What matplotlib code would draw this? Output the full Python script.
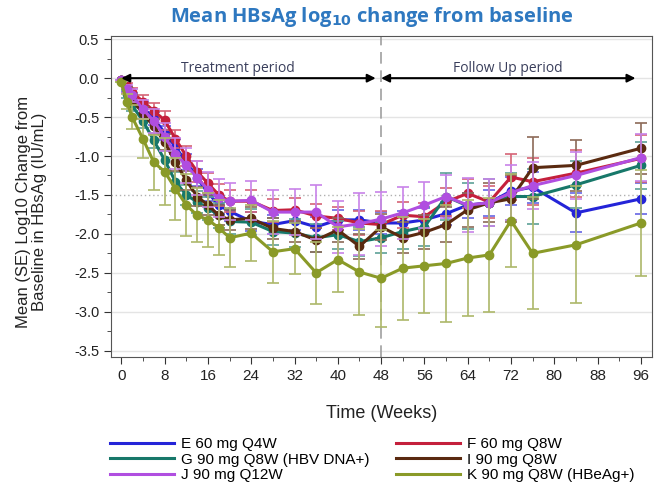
import matplotlib
matplotlib.use('Agg')
from matplotlib import pyplot as plt
from matplotlib.lines import Line2D
from matplotlib.ticker import MultipleLocator
import numpy as np

plt.rcParams['font.family'] = ['Liberation Sans', 'DejaVu Sans']

weeks = [0, 1, 2, 4, 6, 8, 10, 12, 14, 16, 18, 20, 24, 28, 32, 36, 40, 44, 48,
         52, 56, 60, 64, 68, 72, 76, 84, 96]

labels = ['E 60 mg Q4W', 'F 60 mg Q8W', 'G 90 mg Q8W (HBV DNA+)',
          'I 90 mg Q8W', 'J 90 mg Q12W', 'K 90 mg Q8W (HBeAg+)']
colors = ['#2424d8', '#c4203c', '#17786a', '#5a2a10', '#b04ee0', '#8a9a28']

mean_E = [-0.02, -0.14, -0.24, -0.38, -0.52, -0.70, -0.88, -1.08, -1.28, -1.47, -1.63, -1.71,
          -1.84, -1.88, -1.83, -1.91, -1.82, -1.82, -1.86, -1.86, -1.82, -1.74, -1.63, -1.60,
          -1.45, -1.40, -1.73, -1.55]
mean_F = [-0.02, -0.10, -0.18, -0.30, -0.42, -0.54, -0.78, -1.00, -1.20, -1.35, -1.50, -1.58,
          -1.58, -1.70, -1.69, -1.77, -1.80, -1.86, -1.88, -1.76, -1.78, -1.59, -1.48, -1.59,
          -1.27, -1.33, -1.22, -1.03]
mean_G = [-0.03, -0.20, -0.35, -0.55, -0.80, -1.05, -1.33, -1.50, -1.59, -1.67, -1.76, -1.84,
          -1.85, -1.97, -1.99, -2.05, -2.01, -2.10, -2.05, -1.97, -1.91, -1.52, -1.64, -1.60,
          -1.52, -1.52, -1.37, -1.12]
mean_I = [-0.02, -0.15, -0.28, -0.45, -0.62, -0.82, -1.08, -1.31, -1.52, -1.63, -1.76, -1.82,
          -1.80, -1.93, -1.97, -2.08, -1.95, -2.16, -1.91, -2.05, -1.98, -1.88, -1.69, -1.60,
          -1.55, -1.15, -1.12, -0.90]
mean_J = [-0.02, -0.14, -0.22, -0.40, -0.55, -0.75, -0.97, -1.12, -1.28, -1.43, -1.54, -1.58,
          -1.57, -1.72, -1.72, -1.72, -1.91, -1.87, -1.81, -1.73, -1.63, -1.52, -1.63, -1.60,
          -1.47, -1.38, -1.25, -1.02]
mean_K = [-0.05, -0.30, -0.50, -0.78, -1.08, -1.20, -1.42, -1.63, -1.76, -1.82, -1.92, -2.05,
          -1.99, -2.23, -2.19, -2.50, -2.33, -2.49, -2.57, -2.44, -2.41, -2.38, -2.31, -2.27,
          -1.83, -2.25, -2.14, -1.86]

se_E = [0, .04, .05, .07, .08, .09, .10, .10, .11, .11, .12, .12, .12, .12, .12, .13, .13, .13,
        .14, .15, .15, .15, .16, .17, .18, .20, .25, .20]
se_F = [0, .04, .06, .08, .10, .12, .12, .13, .13, .13, .14, .14, .14, .15, .15, .15, .15, .16,
        .17, .17, .18, .18, .19, .20, .30, .30, .30, .30]
se_G = [0, .05, .07, .09, .10, .12, .12, .13, .14, .15, .16, .16, .17, .17, .18, .18, .18, .19,
        .20, .22, .25, .30, .30, .30, .30, .35, .30, .30]
se_I = [0, .04, .06, .08, .10, .10, .11, .12, .12, .13, .13, .13, .14, .14, .14, .15, .15, .16,
        .17, .20, .22, .22, .22, .25, .30, .40, .33, .33]
se_J = [0, .05, .08, .12, .15, .18, .20, .22, .22, .23, .24, .24, .25, .28, .30, .35, .33, .40,
        .35, .33, .30, .28, .35, .30, .35, .30, .30, .30]
se_K = [0, .10, .15, .25, .35, .43, .40, .40, .35, .35, .35, .38, .36, .40, .33, .40, .42, .55,
        .62, .66, .60, .75, .75, .73, .60, .72, .75, .68]

means = [mean_E, mean_F, mean_G, mean_I, mean_J, mean_K]
ses = [se_E, se_F, se_G, se_I, se_J, se_K]

fig = plt.figure(figsize=(6.55, 4.95), dpi=100)
ax = fig.add_axes([0.1695, 0.279, 0.8255, 0.648])

# light grid + dotted reference at -1.5
for yv in np.arange(-3.5, 0.51, 0.5):
    if abs(yv + 1.5) < 1e-6:
        ax.axhline(yv, color='#b0b0b0', lw=1, ls=(0, (1, 2)), zorder=0)
    else:
        ax.axhline(yv, color='#e4e4e4', lw=1, zorder=0)

ax.axvline(48, color='#a0a0a0', lw=1.2, ls=(0, (7, 4)), zorder=1)

def lighten(c, f):
    rgb = np.array(matplotlib.colors.to_rgb(c))
    return tuple(rgb + (1 - rgb) * f)

for i in [5, 2, 3, 1, 0, 4]:
    ax.errorbar(weeks, means[i], yerr=ses[i], color=colors[i], ecolor=lighten(colors[i], 0.3),
                elinewidth=1.2, capsize=4, capthick=1.2, lw=2.2, marker='o', ms=6,
                zorder=3 + i)

# period arrows
ax.annotate('', xy=(47, 0), xytext=(0, 0),
            arrowprops=dict(arrowstyle='<|-|>', color='black', lw=1.5, mutation_scale=12,
                            shrinkA=0, shrinkB=0), zorder=10)
ax.annotate('', xy=(95, 0), xytext=(48, 0),
            arrowprops=dict(arrowstyle='<|-|>', color='black', lw=1.5, mutation_scale=12,
                            shrinkA=0, shrinkB=0), zorder=10)
ax.text(21.5, 0.03, 'Treatment period', ha='center', va='bottom', fontsize=10,
        color='#3a3f5c', family=['Open Sans', 'DejaVu Sans'])
ax.text(71.5, 0.03, 'Follow Up period', ha='center', va='bottom', fontsize=10,
        color='#3a3f5c', family=['Open Sans', 'DejaVu Sans'])

ax.set_xlim(-1.9, 98)
ax.set_ylim(-3.58, 0.54)
ax.xaxis.set_major_locator(MultipleLocator(8))
ax.xaxis.set_minor_locator(MultipleLocator(4))
ax.yaxis.set_major_locator(MultipleLocator(0.5))
ax.yaxis.set_minor_locator(MultipleLocator(0.25))
ax.yaxis.set_major_formatter(matplotlib.ticker.FormatStrFormatter('%.1f'))
ax.tick_params(which='major', length=5, color='#333333', labelcolor='#222222')
ax.tick_params(axis='x', labelsize=11)
ax.tick_params(axis='y', labelsize=10.5)
ax.tick_params(which='minor', length=3, color='#333333')
for s in ax.spines.values():
    s.set_color('#555555')

ax.set_xlabel('Time (Weeks)', fontsize=13, color='#222222', labelpad=16)
ax.set_ylabel('Mean (SE) Log10 Change from\nBaseline in HBsAg (IU/mL)', fontsize=12,
              color='#222222', linespacing=1.05)
ax.yaxis.set_label_coords(-0.1185, 0.452)

fig.text(0.568, 0.965, r'Mean HBsAg log$_{\mathbf{10}}$ change from baseline', ha='center',
         va='center', fontsize=14.5, fontweight='bold', color='#2e78c0',
         family=['Open Sans', 'DejaVu Sans'])

order = [0, 2, 4, 1, 3, 5]
handles = [Line2D([], [], color=colors[i], lw=2.2) for i in order]
fig.legend(handles, [labels[i] for i in order], ncol=2, loc='upper left',
           bbox_to_anchor=(0.168, 0.117), frameon=False, fontsize=11,
           handlelength=4.2, handletextpad=0.45, columnspacing=1.7, labelspacing=0.1,
           borderaxespad=0, borderpad=0)

fig.savefig('out.png', dpi=100)
